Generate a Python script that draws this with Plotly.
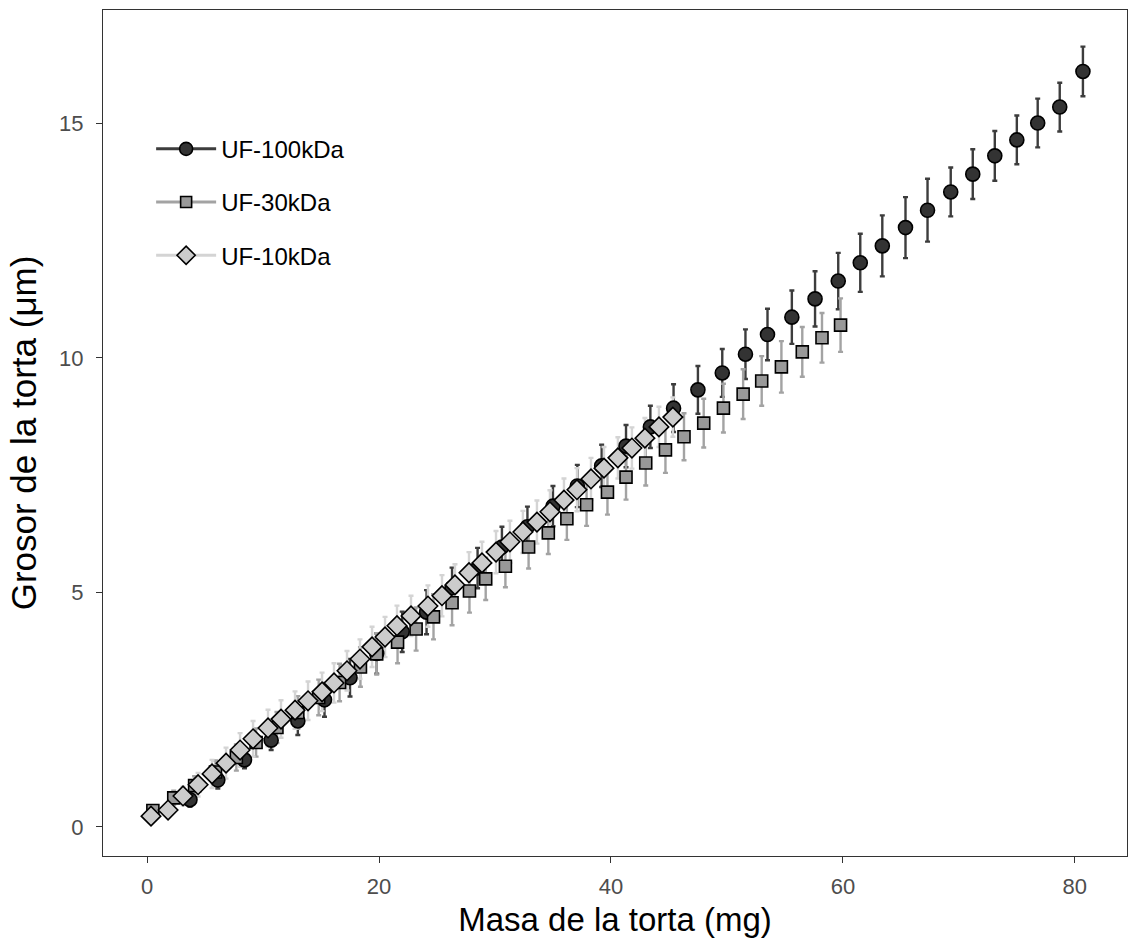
import plotly.graph_objects as go

# ---- data ----
series_names = ["UF-100kDa", "UF-30kDa", "UF-10kDa"]

mass_100 = [3.7, 6.1, 8.4, 10.7, 13.0, 15.3, 17.5, 19.8, 22.0, 24.1, 26.3, 28.5, 30.6,
            32.8, 35.0, 37.1, 39.2, 41.3, 43.4, 45.4, 47.5, 49.6, 51.6, 53.5, 55.6, 57.6,
            59.6, 61.5, 63.4, 65.4, 67.3, 69.3, 71.2, 73.1, 75.0, 76.8, 78.7, 80.7]
thick_100 = [0.58, 1.00, 1.43, 1.85, 2.26, 2.71, 3.18, 3.70, 4.16, 4.58, 5.10, 5.52, 5.97,
             6.40, 6.84, 7.27, 7.70, 8.12, 8.53, 8.93, 9.32, 9.68, 10.08, 10.50, 10.87, 11.26,
             11.64, 12.03, 12.39, 12.78, 13.15, 13.54, 13.92, 14.31, 14.65, 15.01, 15.35, 16.11]
err_100 = [0.15, 0.18, 0.18, 0.21, 0.30, 0.36, 0.40, 0.43, 0.43, 0.47, 0.43, 0.43, 0.43,
           0.43, 0.43, 0.45, 0.45, 0.45, 0.45, 0.51, 0.51, 0.51, 0.53, 0.55, 0.57, 0.59,
           0.60, 0.62, 0.65, 0.65, 0.67, 0.52, 0.53, 0.53, 0.52, 0.52, 0.52, 0.53]

mass_30 = [0.5, 2.3, 4.1, 5.9, 7.7, 9.4, 11.2, 13.0, 14.8, 16.6, 18.4, 19.8, 21.6, 23.2,
           24.7, 26.3, 27.8, 29.2, 30.9, 32.9, 34.6, 36.2, 37.9, 39.7, 41.3, 43.0, 44.7,
           46.3, 48.0, 49.7, 51.4, 53.0, 54.7, 56.5, 58.2, 59.8]
thick_30 = [0.35, 0.62, 0.88, 1.17, 1.48, 1.80, 2.12, 2.44, 2.76, 3.08, 3.41, 3.69, 3.94,
            4.22, 4.48, 4.78, 5.03, 5.29, 5.56, 5.97, 6.27, 6.57, 6.87, 7.14, 7.46, 7.76,
            8.04, 8.32, 8.61, 8.93, 9.23, 9.51, 9.81, 10.13, 10.43, 10.70]
err_30 = [0.10, 0.15, 0.20, 0.25, 0.28, 0.30, 0.33, 0.35, 0.38, 0.40, 0.42, 0.44, 0.45,
          0.46, 0.48, 0.48, 0.46, 0.45, 0.45, 0.46, 0.45, 0.45, 0.45, 0.48, 0.48, 0.48,
          0.49, 0.50, 0.52, 0.52, 0.53, 0.53, 0.55, 0.53, 0.53, 0.57]

mass_10 = [0.34, 1.81, 3.10, 4.40, 5.60, 6.81, 8.02, 9.14, 10.43, 11.55, 12.76, 13.88,
           15.09, 16.12, 17.24, 18.36, 19.40, 20.52, 21.55, 22.76, 24.22, 25.43, 26.55,
           27.76, 28.88, 30.09, 31.29, 32.41, 33.62, 34.74, 35.95, 37.07, 38.28, 39.40,
           40.60, 41.81, 42.93, 44.14, 45.34]
thick_10 = [0.23, 0.36, 0.66, 0.90, 1.13, 1.36, 1.64, 1.88, 2.11, 2.30, 2.49, 2.69, 2.88,
            3.07, 3.33, 3.58, 3.84, 4.05, 4.29, 4.50, 4.71, 4.93, 5.16, 5.42, 5.63, 5.86,
            6.08, 6.29, 6.50, 6.72, 6.97, 7.19, 7.42, 7.65, 7.87, 8.08, 8.29, 8.53, 8.74]
err_10 = [0.08, 0.12, 0.20, 0.25, 0.30, 0.33, 0.36, 0.38, 0.39, 0.40, 0.40, 0.41, 0.41,
          0.42, 0.42, 0.42, 0.43, 0.43, 0.43, 0.43, 0.44, 0.44, 0.44, 0.44, 0.45, 0.45,
          0.45, 0.45, 0.46, 0.46, 0.46, 0.46, 0.45, 0.45, 0.44, 0.44, 0.43, 0.43, 0.42]

x_ticks = [0, 20, 40, 60, 80]
y_ticks = [0, 5, 10, 15]

# ---- styles ----
fills = ["#333333", "#999999", "#cccccc"]
bar_colors = ["#3d3d3d", "#a3a3a3", "#d4d4d4"]
symbols = ["circle", "square", "diamond"]
sizes = [14, 12, 15]
FONT = "Liberation Sans, Arial, sans-serif"

data = [(mass_100, thick_100, err_100), (mass_30, thick_30, err_30), (mass_10, thick_10, err_10)]

fig = go.Figure()

# error bars first (all below points)
for (xs, ys, es), bc in zip(data, bar_colors):
    fig.add_trace(go.Scatter(
        x=xs, y=ys, mode="markers",
        marker=dict(size=1, color="rgba(0,0,0,0)"),
        error_y=dict(type="data", array=es, visible=True, color=bc, thickness=2.4, width=2.5),
        showlegend=False, hoverinfo="skip"))

# points
for (xs, ys, es), f, s, sz in zip(data, fills, symbols, sizes):
    fig.add_trace(go.Scatter(
        x=xs, y=ys, mode="markers",
        marker=dict(symbol=s, size=sz, color=f, line=dict(color="black", width=1.6)),
        showlegend=False))

# legend entries
for name, f, s, sz, bc in zip(series_names, fills, symbols, sizes, bar_colors):
    fig.add_trace(go.Scatter(
        x=[None], y=[None], mode="lines+markers", name=name, legendgroup=name,
        line=dict(color=bc, width=3),
        marker=dict(symbol=s, size=sz - 1, color=f, line=dict(color="black", width=1.6))))

axis_common = dict(showline=True, mirror=True, linecolor="#333333", linewidth=1.3,
                   showgrid=False, zeroline=False, ticks="outside", ticklen=6,
                   tickwidth=1.3, tickcolor="#333333",
                   tickfont=dict(family=FONT, size=22, color="#4d4d4d"))

fig.update_layout(
    width=1128, height=946,
    margin=dict(l=103, r=1, t=10, b=90),
    paper_bgcolor="white", plot_bgcolor="white",
    font=dict(family=FONT, color="black"),
    xaxis=dict(range=[-3.8, 84.5], tickvals=x_ticks, ticklabelstandoff=4,
               title=dict(text="Masa de la torta (mg)", font=dict(size=33), standoff=10),
               **axis_common),
    yaxis=dict(range=[-0.62, 17.42], tickvals=y_ticks, ticklabelstandoff=8,
               title=dict(text="Grosor de la torta (μm)", font=dict(size=35), standoff=11),
               **axis_common),
    legend=dict(x=0.047, y=0.862, xanchor="left", yanchor="top",
                font=dict(size=24, color="black"), bgcolor="rgba(0,0,0,0)",
                itemwidth=60, tracegroupgap=19),
    showlegend=True,
)

fig.write_html("out.html", config={"displayModeBar": False},
               post_script="document.body.style.margin='0px';")
